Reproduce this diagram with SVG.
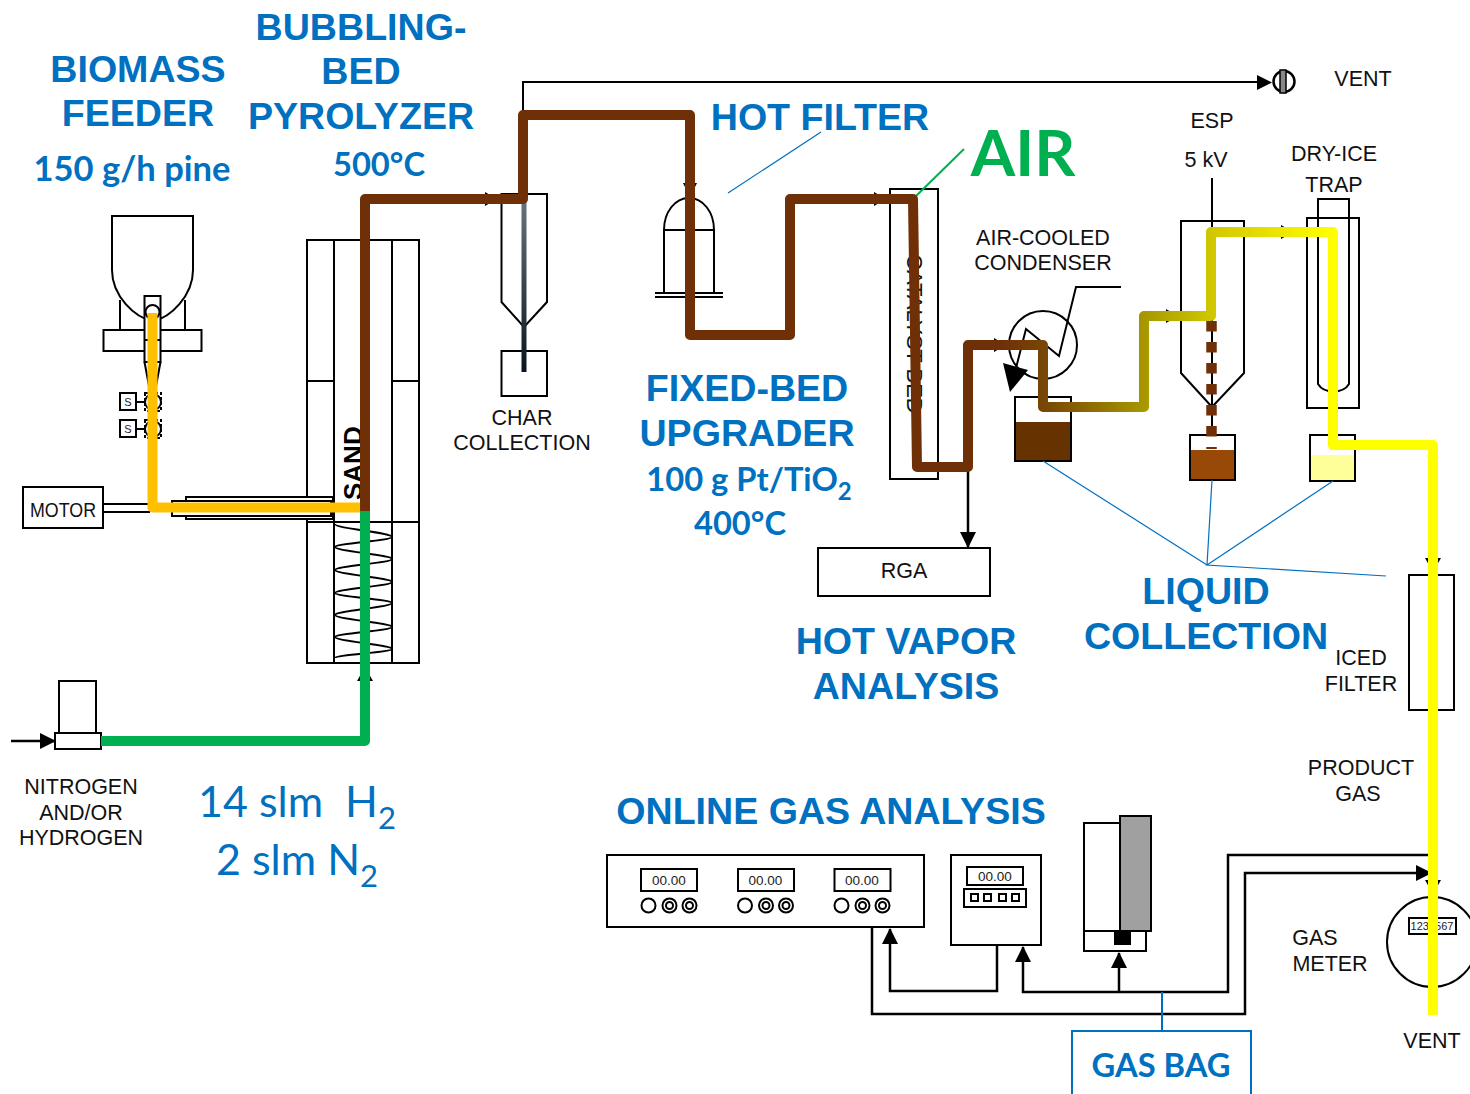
<svg xmlns="http://www.w3.org/2000/svg" width="1470" height="1094" viewBox="0 0 1470 1094">
<style>
.s{fill:none;stroke:#000;stroke-width:2}
.w{fill:#fff;stroke:#000;stroke-width:2}
.c{fill:none;stroke:#000;stroke-width:2.5}
.b{fill:none;stroke:#0070c0;stroke-width:1.2}
.p{fill:none;stroke-width:10;stroke-linejoin:round}
.t{font-family:"Liberation Sans",Arial,sans-serif;font-size:21.500px;fill:#111;text-anchor:middle}
.h{font-family:"Liberation Sans",Arial,sans-serif;font-weight:700;font-size:37.600px;fill:#0070c0;text-anchor:middle}
.l{font-family:Lato,"Open Sans",sans-serif;font-weight:700;font-size:32.700px;fill:#0070c0;text-anchor:middle}
.n{font-family:Lato,"Open Sans",sans-serif;font-size:43px;fill:#0070c0;text-anchor:middle}
.d{font-family:"Liberation Sans",Arial,sans-serif;font-size:13.500px;fill:#222;text-anchor:middle}
</style>
<defs>
<linearGradient id="g1" gradientUnits="userSpaceOnUse" x1="1000" y1="0" x2="1333" y2="0">
<stop offset="0" stop-color="#6f2f07"/><stop offset="0.15" stop-color="#7a4a05"/><stop offset="0.43" stop-color="#a89600"/><stop offset="0.63" stop-color="#d0c600"/><stop offset="1" stop-color="#ffff00"/>
</linearGradient>
<linearGradient id="g2" gradientUnits="userSpaceOnUse" x1="0" y1="199" x2="0" y2="372">
<stop offset="0" stop-color="#687480"/><stop offset="1" stop-color="#0a1420"/>
</linearGradient>
<marker id="a" markerUnits="userSpaceOnUse" markerWidth="16" markerHeight="16" refX="15" refY="8" orient="auto"><path d="M0 0L16 8L0 16Z" fill="#000"/></marker>
<g id="knobs"><circle cx="0" cy="0" r="7" class="w"/><circle cx="21" cy="0" r="7" class="w"/><circle cx="21" cy="0" r="3.500" class="w"/><circle cx="41" cy="0" r="7" class="w"/><circle cx="41" cy="0" r="3.500" class="w"/></g>
</defs>
<g id="feeder">
<path class="w" d="M120 300V330M185 300V330"/>
<path class="w" d="M112 216H193V270C193 296 170 318 153 321C135 318 112 296 112 270Z"/>
<rect class="w" x="103.500" y="330" width="98" height="21"/>
<rect class="w" x="144.500" y="296" width="16" height="66"/>
<path class="s" d="M144.500 340H160.500M144.500 362L149 386M160.500 362L156 386"/>
<circle class="w" cx="152.500" cy="312" r="7"/>
<rect class="w" x="120" y="393" width="16" height="17"/><rect class="w" x="120" y="420" width="16" height="17"/>
<path class="s" d="M136 402H145M136 429H145"/>
<rect class="s" x="145" y="393" width="16" height="18" stroke-dasharray="3 2"/><rect class="s" x="145" y="420" width="16" height="18" stroke-dasharray="3 2"/>
<circle class="s" cx="153" cy="402" r="8"/><circle class="s" cx="153" cy="429" r="8"/>
<text class="d" x="128" y="406" style="font-size:11px">S</text><text class="d" x="128" y="433" style="font-size:11px">S</text>
</g>
<g id="motor">
<path class="s" d="M103 504H150M103 512H150"/>
<rect class="w" x="23" y="487" width="80" height="41"/>
<text class="t" x="63" y="517" style="font-size:21px" textLength="66" lengthAdjust="spacingAndGlyphs">MOTOR</text>
</g>
<g id="pyrolyzer">
<rect class="s" x="307" y="240" width="112" height="423"/>
<path class="s" d="M334 240V663M392 240V663M307 381H334M392 381H419M307 522H419"/>
<rect class="w" x="186" y="497" width="147" height="22"/>
<rect class="w" x="172" y="501" width="159" height="15"/>
<path d="M335 524C335 528.500 392 532.500 392 537C392 540.500 335 543.500 335 547C335 551 392 555 392 559C392 563 335 566 335 570C335 574 392 578 392 582C392 586 335 589 335 593C335 596.500 392 599.500 392 603C392 607 335 611 335 615C335 619 392 623 392 627C392 630.500 335 633.500 335 637C335 641 392 645 392 649C392 652 335 655 335 658" fill="none" stroke="#000" stroke-width="1.800"/>
<text x="362" y="500" transform="rotate(-90 362 500)" style="font-family:'Liberation Sans',sans-serif;font-weight:700;font-size:26px" fill="#000">SAND</text>
</g>
<g id="cyclone">
<path class="s" d="M501.500 194H547V302L524 327L501.500 302Z"/>
<rect class="s" x="501.500" y="351" width="45.500" height="45"/>
<path d="M524 199V372" fill="none" stroke="url(#g2)" stroke-width="5"/>
</g>
<g id="hot-filter">
<path class="s" d="M664 292V230C664 212 675 198 689 198C703 198 714 212 714 230V292M664 230H714M655 293H723M655 297H723"/>
</g>
<g id="upgrader">
<rect class="s" x="890" y="189" width="48" height="290"/>
<text x="907" y="254" transform="rotate(90 907 254)" style="font-family:'Liberation Sans',sans-serif;font-size:22px" fill="#111">CATALYST BED</text>
</g>
<g id="condenser">
<circle class="s" cx="1043" cy="345" r="34"/>
<path class="s" d="M1121 287H1076L1059 356L1026 329L1016 368"/>
<path d="M1003 363L1028 370L1010 392Z" fill="#000"/>
<rect class="s" x="1015" y="397" width="56" height="64"/>
<rect x="1016" y="422" width="54" height="38" fill="#663300"/>
</g>
<g id="esp">
<path class="s" d="M1181 221H1244V373L1212 407L1181 373Z"/>
<path class="s" d="M1212 178V435"/>
<rect class="s" x="1190" y="435" width="45" height="45"/>
<rect x="1191" y="450" width="43" height="29" fill="#984807"/>
</g>
<g id="dry-ice-trap">
<rect class="s" x="1307" y="218" width="52" height="190"/>
<path class="s" d="M1318 218V199H1349V384C1343 394 1324 394 1318 384V218"/>
<rect class="s" x="1310" y="435" width="45" height="46"/>
<rect x="1311" y="455" width="43" height="25" fill="#ffff99"/>
</g>
<g id="iced-filter"><rect class="s" x="1409" y="575" width="45" height="135"/></g>
<g id="rga"><rect class="s" x="818" y="548" width="172" height="48"/><text class="t" x="904" y="578">RGA</text></g>
<g id="gas-feed">
<rect class="s" x="59" y="681" width="37" height="52"/>
<rect class="s" x="55" y="733" width="46" height="16"/>
</g>
<g id="analyzer-panel">
<rect class="w" x="607" y="855" width="317" height="72"/>
<rect class="w" x="641" y="869" width="56" height="22"/><rect class="w" x="738" y="869" width="56" height="22"/><rect class="w" x="834.500" y="869" width="56" height="22"/>
<text class="d" x="669" y="885">00.00</text><text class="d" x="765.500" y="885">00.00</text><text class="d" x="862" y="885">00.00</text>
<use href="#knobs" x="648.500" y="905.500"/><use href="#knobs" x="745" y="905.500"/><use href="#knobs" x="841.500" y="905.500"/>
</g>
<g id="analyzer-2">
<rect class="w" x="951" y="855" width="90" height="90"/>
<rect class="w" x="967" y="867" width="56" height="18"/>
<text class="d" x="995" y="881">00.00</text>
<rect class="w" x="964" y="889" width="62" height="18"/>
<rect class="w" x="971" y="894" width="7" height="7"/><rect class="w" x="984" y="894" width="7" height="7"/><rect class="w" x="999" y="894" width="7" height="7"/><rect class="w" x="1012" y="894" width="7" height="7"/>
</g>
<g id="analyzer-3">
<rect class="w" x="1084" y="823" width="36" height="108"/>
<rect x="1120" y="816" width="31" height="115" fill="#a0a0a0" stroke="#000" stroke-width="2"/>
<rect class="w" x="1084" y="931" width="62" height="20"/>
<rect x="1114" y="931" width="17" height="14" fill="#000"/>
</g>
<g id="gas-meter">
<circle class="s" cx="1432" cy="942" r="45"/>
<rect class="w" x="1409" y="918" width="47" height="16"/>
<text class="d" x="1432" y="930" style="font-size:11px">1234567</text>
</g>
<g id="gas-bag">
<path d="M1072 1094V1031H1251V1094" fill="none" stroke="#0070c0" stroke-width="2"/>
<text class="l" x="1161" y="1077">GAS BAG</text>
</g>
<g id="connectors">
<path class="s" d="M523 115V82H1260"/>
<path d="M1257 75L1272 82.500L1257 90Z" fill="#000"/>
<circle cx="1284" cy="81.500" r="10.500" fill="#fff" stroke="#000" stroke-width="2.500"/>
<rect x="1280" y="70" width="6" height="23" fill="#888" stroke="#000" stroke-width="1.500"/>
<path class="c" d="M968 467V547" marker-end="url(#a)"/>
<path d="M11 741H55" class="c" marker-end="url(#a)"/>
<path class="c" d="M997 945V991H890V929" marker-end="url(#a)"/>
<path class="c" d="M872 927V1014H1245V873H1431" marker-end="url(#a)"/>
<path class="c" d="M1430 855H1228V992H1023V947" marker-end="url(#a)"/>
<path class="c" d="M1119 992V953" marker-end="url(#a)"/>
<path d="M485 192L497 199L485 206ZM683 183L690 197L697 183ZM874 192L886 199L874 206ZM1281 225L1293 232L1281 239ZM1166 309L1178 316L1166 323ZM994 338L1006 345L994 352ZM1425 558L1433 572L1441 558ZM1425 880L1433 894L1441 880ZM357 681L365 667L373 681Z" fill="#000"/>
<path class="b" d="M728 193L821 132M1043 461L1207 565M1212 480L1207 565M1333 481L1207 565L1386 576"/>
<path d="M1162 992V1031" fill="none" stroke="#0070c0" stroke-width="2"/>
<path d="M914 198L964 149" fill="none" stroke="#00b050" stroke-width="2"/>
<path class="p" stroke="#00b050" d="M365 510V741H101" stroke-linecap="butt"/>
<path class="p" stroke="#ffc000" d="M152.500 313V507.500H360"/>
<path class="p" stroke="#6f2f07" d="M365 511V199H523V115H690V335H790V199H913L917 467H968V345H1005"/>
<path class="p" stroke="url(#g1)" d="M1000 345H1043V407H1144V316H1211V232H1333V445H1390"/>
<path class="p" stroke="#ffff00" d="M1330 445H1433V1015"/>
<path d="M1211.500 321V449" fill="none" stroke="#6f2f07" stroke-width="10.500" stroke-dasharray="10.500 10.500"/>
</g>
<g id="labels">
<text class="h" x="138" y="82">BIOMASS</text><text class="h" x="138" y="126">FEEDER</text>
<text class="l" x="132" y="181" style="font-size:34.500px">150 g/h pine</text>
<text class="h" x="361" y="40">BUBBLING-</text><text class="h" x="361" y="84">BED</text><text class="h" x="361" y="129">PYROLYZER</text>
<text class="l" x="379" y="176">500°C</text>
<text class="h" x="820" y="130">HOT FILTER</text>
<text x="1023" y="176" style="font-family:Lato,sans-serif;font-weight:700;font-size:64px;text-anchor:middle" fill="#00b050">AIR</text>
<text class="h" x="747" y="401">FIXED-BED</text><text class="h" x="747" y="446">UPGRADER</text>
<text class="l" x="749" y="491">100 g Pt/TiO<tspan dy="9" font-size="24">2</tspan></text>
<text class="l" x="740" y="535">400°C</text>
<text class="h" x="906" y="654">HOT VAPOR</text><text class="h" x="906" y="699">ANALYSIS</text>
<text class="h" x="1206" y="604">LIQUID</text><text class="h" x="1206" y="649">COLLECTION</text>
<text class="h" x="831" y="824">ONLINE GAS ANALYSIS</text>
<text class="n" x="297" y="817">14 slm &#160;H<tspan dy="12" font-size="31">2</tspan></text>
<text class="n" x="297" y="875">2 slm N<tspan dy="12" font-size="31">2</tspan></text>
<text class="t" x="522" y="425">CHAR</text><text class="t" x="522" y="450">COLLECTION</text>
<text class="t" x="1043" y="245">AIR-COOLED</text><text class="t" x="1043" y="270">CONDENSER</text>
<text class="t" x="1212" y="128">ESP</text><text class="t" x="1206" y="167">5 kV</text>
<text class="t" x="1334" y="161">DRY-ICE</text><text class="t" x="1334" y="192">TRAP</text>
<text class="t" x="1363" y="86">VENT</text>
<text class="t" x="1361" y="665">ICED</text><text class="t" x="1361" y="691">FILTER</text>
<text class="t" x="1361" y="775">PRODUCT</text><text class="t" x="1358" y="801">GAS</text>
<text class="t" x="1315" y="945">GAS</text><text class="t" x="1330" y="971">METER</text>
<text class="t" x="1432" y="1048">VENT</text>
<text class="t" x="81" y="794">NITROGEN</text><text class="t" x="81" y="820">AND/OR</text><text class="t" x="81" y="845">HYDROGEN</text>
</g>
</svg>
